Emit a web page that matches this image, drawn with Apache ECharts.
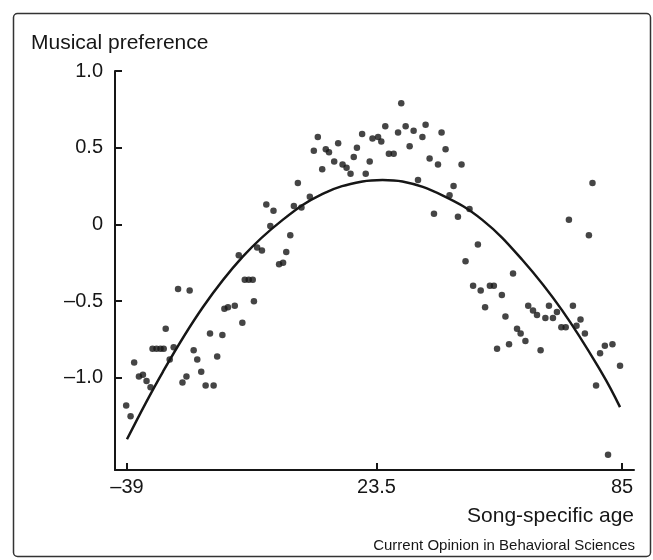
<!DOCTYPE html>
<html>
<head>
<meta charset="utf-8">
<script src="https://cdn.jsdelivr.net/npm/echarts@6/dist/echarts.min.js"></script>
<style>
html,body{margin:0;padding:0;background:#fff;}
#chart{width:653px;height:560px;}
</style>
</head>
<body>
<div id="chart"></div>
<script>
// Scatter points: song-specific age (years) vs musical preference
var songAge = [
 -39.2,-38.1,-37.2,-36.0,-35.0,-34.1,-33.1,-32.6,-31.6,-30.6,
 -29.8,-29.3,-28.3,-27.3,-26.2,-25.1,-24.1,-23.3,-22.3,-21.4,
 -20.4,-19.3,-18.2,-17.3,-16.4,-15.1,-14.6,-13.7,-12.0,-11.0,
 -10.1,-9.5,-8.5,-7.5,-7.2,-6.4,-5.2,-4.1,-3.1,-2.3,
 -0.9,0.1,0.9,1.9,2.8,3.8,4.7,6.8,7.8,8.8,
 9.9,10.8,11.6,12.9,13.9,15.0,16.0,17.0,17.8,18.6,
 19.9,20.8,21.8,22.5,23.9,24.7,25.7,26.6,27.8,28.9,
 29.7,30.8,31.8,32.8,33.9,35.0,35.8,36.8,37.9,38.9,
 39.8,40.8,41.8,42.8,43.9,44.8,45.8,46.8,47.7,48.9,
 49.6,50.7,51.9,52.9,53.7,54.9,55.8,56.7,57.7,58.7,
 59.6,60.8,61.5,62.7,63.7,64.6,65.8,66.7,67.7,68.7,
 69.8,70.9,71.7,72.7,73.6,74.6,75.7,76.7,77.6,78.5,
 79.5,80.7,81.5,82.6,84.5
];
var preference = [
 -1.18,-1.25,-0.90,-0.99,-0.98,-1.02,-1.06,-0.81,-0.81,-0.81,
 -0.81,-0.68,-0.88,-0.80,-0.42,-1.03,-0.99,-0.43,-0.82,-0.88,
 -0.96,-1.05,-0.71,-1.05,-0.86,-0.72,-0.55,-0.54,-0.53,-0.20,
 -0.64,-0.36,-0.36,-0.36,-0.50,-0.15,-0.17,0.13,-0.01,0.09,
 -0.26,-0.25,-0.18,-0.07,0.12,0.27,0.11,0.18,0.48,0.57,
 0.36,0.49,0.47,0.41,0.53,0.39,0.37,0.33,0.44,0.50,
 0.59,0.33,0.41,0.56,0.57,0.54,0.64,0.46,0.46,0.60,
 0.79,0.64,0.51,0.61,0.29,0.57,0.65,0.43,0.07,0.39,
 0.60,0.49,0.19,0.25,0.05,0.39,-0.24,0.10,-0.40,-0.13,
 -0.43,-0.54,-0.40,-0.40,-0.81,-0.46,-0.60,-0.78,-0.32,-0.68,
 -0.71,-0.76,-0.53,-0.56,-0.59,-0.82,-0.61,-0.53,-0.61,-0.57,
 -0.67,-0.67,0.03,-0.53,-0.66,-0.62,-0.71,-0.07,0.27,-1.05,
 -0.84,-0.79,-1.50,-0.78,-0.92
];
// Fitted curve at selected ages
var fitAge  = [-39, -30, -20, -10, 0, 10, 20, 25, 30, 40, 50, 60, 70, 80, 84.5];
var fitPref = [-1.40, -0.96, -0.54, -0.21, 0.03, 0.20, 0.28, 0.29, 0.28, 0.19, 0.03, -0.23, -0.56, -0.97, -1.19];

// Axis ticks and labels
var xTicks = [-39, 23.5, 85];
var xTickLabels = ['\u201339', '23.5', '85'];
var yTicks = [-1, -0.5, 0, 0.5, 1];
var yTickLabels = ['\u20131.0', '\u20130.5', '0', '0.5', '1.0'];

var yTitle = 'Musical preference';
var xTitle = 'Song-specific age';
var credit = 'Current Opinion in Behavioral Sciences';

var FONT = '"Liberation Sans", Arial, Helvetica, sans-serif';
var INK = '#161616';

var scatterData = songAge.map(function (a, i) { return [a, preference[i]]; });
var fitData = fitAge.map(function (a, i) { return [a, fitPref[i]]; });

function lookup(ticks, labels) {
  return function (v) {
    for (var i = 0; i < ticks.length; i++) {
      if (Math.abs(ticks[i] - v) < 1e-6) return labels[i];
    }
    return '';
  };
}

var chart = echarts.init(document.getElementById('chart'), null, { renderer: 'canvas' });
chart.setOption({
  animation: false,
  backgroundColor: '#fff',
  grid: { left: 115, right: 19, top: 71, bottom: 90 },
  xAxis: {
    type: 'value',
    min: -42, max: 88,
    splitLine: { show: false },
    axisLine: { show: true, onZero: false, lineStyle: { color: INK, width: 2 } },
    axisTick: { show: true, inside: true, length: 7, customValues: xTicks, lineStyle: { color: INK, width: 2 } },
    axisLabel: { show: true, customValues: xTicks, formatter: lookup(xTicks, xTickLabels),
      color: INK, fontSize: 20, fontFamily: FONT, margin: 7 }
  },
  yAxis: {
    type: 'value',
    min: -1.6, max: 1.0,
    splitLine: { show: false },
    axisLine: { show: true, onZero: false, lineStyle: { color: INK, width: 2 } },
    axisTick: { show: true, inside: true, length: 7, customValues: yTicks, lineStyle: { color: INK, width: 2 } },
    axisLabel: { show: true, customValues: yTicks, formatter: lookup(yTicks, yTickLabels),
      color: INK, fontSize: 20, fontFamily: FONT, margin: 12 }
  },
  series: [
    {
      type: 'scatter',
      data: scatterData,
      symbol: 'circle',
      symbolSize: 6.5,
      itemStyle: { color: INK },
      z: 3
    },
    {
      type: 'line',
      data: fitData,
      smooth: 0.4,
      showSymbol: false,
      symbol: 'none',
      lineStyle: { color: INK, width: 2.5 },
      z: 2
    }
  ],
  graphic: [
    {
      type: 'rect',
      shape: { x: 13.5, y: 13.5, width: 637, height: 543, r: 4 },
      style: { fill: 'none', stroke: '#333', lineWidth: 1.5 },
      silent: true
    },
    {
      type: 'text', left: 31, top: 33,
      style: { text: yTitle, font: '21px ' + FONT, fill: INK }
    },
    {
      type: 'text', right: 19, top: 506,
      style: { text: xTitle, font: '21px ' + FONT, fill: INK, textAlign: 'right' }
    },
    {
      type: 'text', right: 18, top: 538,
      style: { text: credit, font: '15px ' + FONT, fill: INK, textAlign: 'right' }
    }
  ]
});
</script>
</body>
</html>
